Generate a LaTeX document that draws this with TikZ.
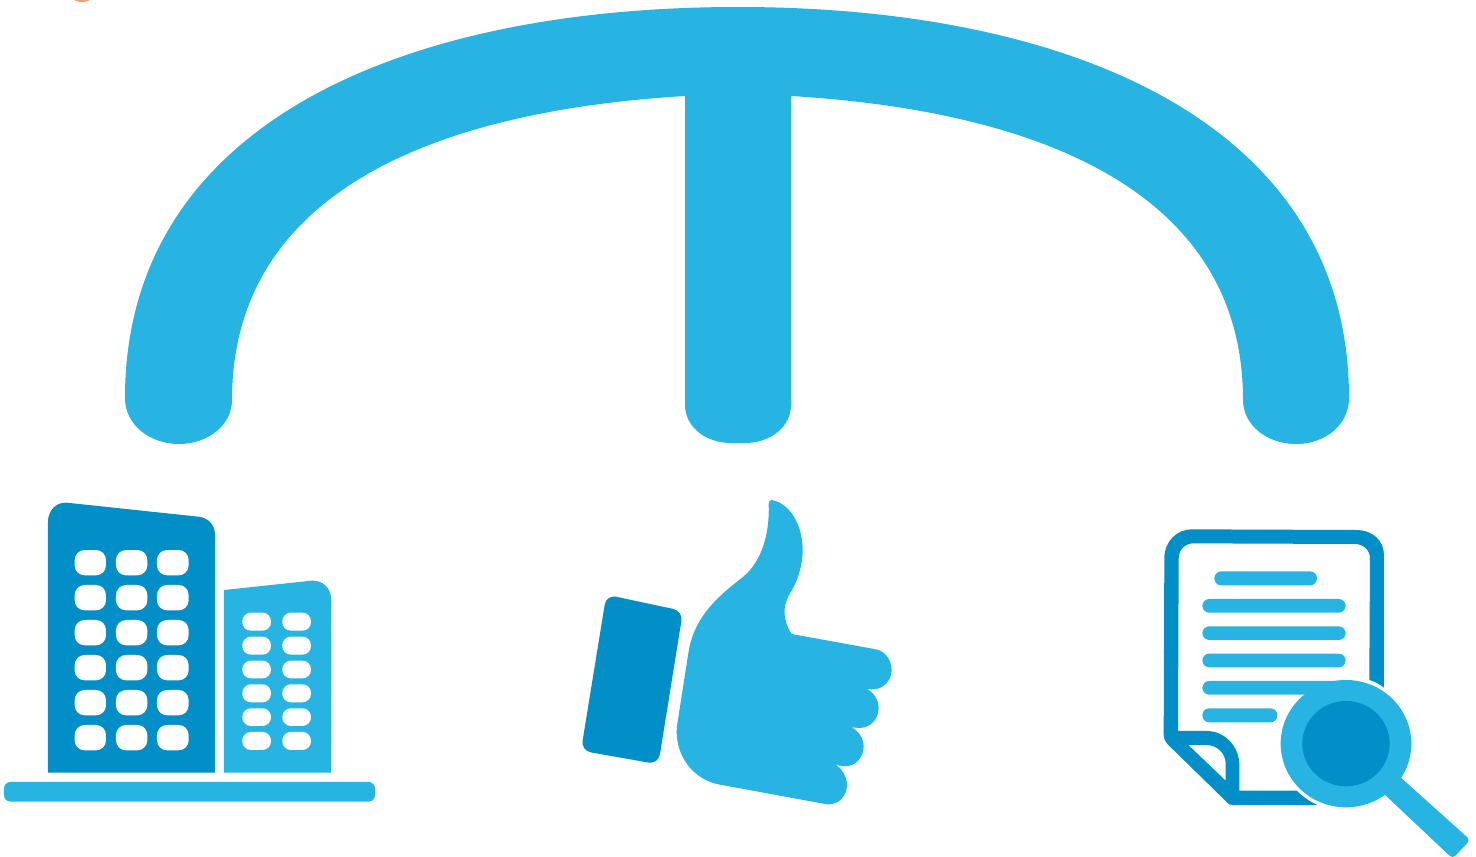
\documentclass[tikz,border=0pt]{standalone}
\definecolor{lightblue}{HTML}{27B4E3}
\definecolor{darkblue}{HTML}{028EC6}
\definecolor{smudge}{HTML}{F4A070}
\tikzset{
  lite/.style={fill=lightblue,draw=none},
  deep/.style={fill=darkblue,draw=none},
  win/.style={fill=white,draw=none},
}
\begin{document}
\begin{tikzpicture}[x=1pt,y=-1pt]
\useasboundingbox (0,0) rectangle (1476,857);
% orange remnant
\fill[smudge] (82,-2) ellipse [x radius=9, y radius=4];
% arch
\fill[lite] (125,398) .. controls (125,125) and (400,7) .. (738,7)
  .. controls (1074,7) and (1349,125) .. (1349,398)
  .. controls (1349,425) and (1325,444) .. (1296,444)
  .. controls (1267,444) and (1243,425) .. (1243,400)
  .. controls (1243,200) and (1055,112) .. (791,96)
  -- (791,405) .. controls (791,427) and (770,443) .. (745,443)
  -- (731,443) .. controls (706,443) and (685,427) .. (685,405)
  -- (685,96)
  .. controls (420,112) and (232,200) .. (232,400)
  .. controls (232,425) and (208,444) .. (179,444)
  .. controls (150,444) and (125,425) .. (125,398) -- cycle;
% buildings
\begin{scope}[shift={(0,490)},x=0.3333pt,y=-0.3333pt]
  \fill[deep] (144,848) -- (144,95) .. controls (144,62) and (168,36) .. (200,38)
    -- (595,80) .. controls (625,83) and (645,105) .. (645,135) -- (645,848) -- cycle;
  \foreach \xa/\xb in {224/318,348/442,471/566}
    \foreach \ya/\yb in {180/256,285/361,390/466,495/571,600/676,705/781}
      \fill[win,rounded corners=10pt] (\xa,\ya) rectangle (\xb,\yb);
  \fill[lite] (672,848) -- (672,300) -- (935,272) .. controls (968,270) and (993,295) .. (993,325) -- (993,848) -- cycle;
  \foreach \xa/\xb in {727/813,847/933}
    \foreach \ya/\yb in {368/422,440/494,512/565,583/637,655/708,726/780}
      \fill[win,rounded corners=8.5pt] (\xa,\ya) rectangle (\xb,\yb);
  \fill[lite,rounded corners=6.5pt] (12,876) rectangle (1125,935);
\end{scope}
% thumb
\begin{scope}[shift={(570,490)},x=0.3333pt,y=-0.3333pt]
  \fill[deep,rounded corners=10pt] (109,314) -- (339,363) -- (265,823) -- (33,782) -- cycle;
  \fill[lite] (605,30) .. controls (660,40) and (698,105) .. (698,180)
    .. controls (698,230) and (680,280) .. (660,310)
    .. controls (635,350) and (640,395) .. (665,432)
    -- (918,478) .. controls (945,483) and (965,510) .. (965,540)
    .. controls (965,572) and (940,598) .. (908,598) -- (890,597)
    .. controls (912,607) and (926,630) .. (926,655)
    .. controls (926,688) and (900,714) .. (868,714) -- (845,712)
    .. controls (866,723) and (881,745) .. (881,770)
    .. controls (881,802) and (857,829) .. (825,829) -- (797,825)
    .. controls (816,836) and (831,860) .. (831,885)
    .. controls (831,918) and (805,946) .. (772,943) -- (765,942)
    -- (450,884) .. controls (370,870) and (320,800) .. (320,725)
    .. controls (320,715) and (321,708) .. (323,695)
    -- (355,490) .. controls (370,390) and (430,330) .. (510,268)
    .. controls (570,225) and (600,140) .. (596,42)
    .. controls (596,34) and (600,30) .. (605,30) -- cycle;
\end{scope}
% document and magnifier
\begin{scope}[shift={(1150,520)},x=0.3333pt,y=-0.3333pt]
  \fill[deep,even odd rule] (702,503) -- (702,105) .. controls (702,60) and (665,30) .. (620,30)
    -- (125,28) .. controls (80,28) and (43,65) .. (43,115)
    -- (41,645) .. controls (41,655) and (45,665) .. (52,672)
    -- (232,848) .. controls (237,853) and (240,855) .. (248,855)
    -- (502,855) .. controls (480,845) and (458,830) .. (440,812)
    -- (268,812) -- (268,735) .. controls (268,680) and (225,633) .. (170,633)
    -- (84,633) -- (86,115) .. controls (86,90) and (105,70) .. (130,70)
    -- (615,72) .. controls (640,72) and (660,90) .. (660,115)
    -- (658,480) .. controls (675,485) and (690,493) .. (702,503) -- cycle
    (115,675) -- (170,675) .. controls (200,675) and (227,700) .. (227,730)
    -- (227,782) -- cycle;
  \fill[lite,rounded corners=6.9pt] (193,154) rectangle (501,196);
  \fill[lite,rounded corners=6.9pt] (157,237) rectangle (587,278);
  \fill[lite,rounded corners=6.9pt] (157,319) rectangle (587,360);
  \fill[lite,rounded corners=6.9pt] (157,401) rectangle (587,442);
  \fill[lite,rounded corners=6.9pt] (157,483) rectangle (587,524);
  \fill[lite,rounded corners=6.9pt] (157,565) rectangle (382,607);
  \fill[white] (462,524) -- (587,524) -- (587,640) -- (440,640) -- cycle;
  \fill[lite,rounded corners=4pt] (745,766) -- (961,960) -- (908,1016) -- (695,815) -- cycle;
  \fill[lite] (588,671) ellipse [x radius=196, y radius=191];
  \fill[deep] (588,671) ellipse [x radius=131, y radius=128];
\end{scope}
\end{tikzpicture}
\end{document}
